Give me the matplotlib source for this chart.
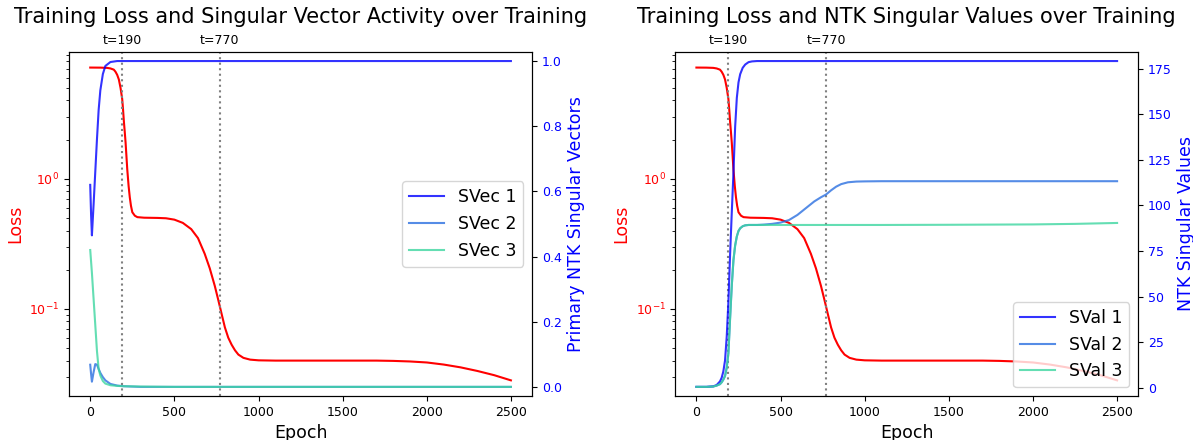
import matplotlib
matplotlib.use("Agg")
import matplotlib.pyplot as plt
import matplotlib.transforms as mtransforms

# loss (same run shown in both panels)
loss_epochs = [0, 60, 100, 120, 140, 150, 160, 170, 180, 190, 195, 200, 205, 210, 215, 220, 228, 235, 242, 250,
               265, 280, 320, 400, 450, 500, 550, 600, 640, 680, 710, 740, 760, 780, 800, 820, 840, 860, 880,
               910, 950, 1000, 1100, 1300, 1700, 1800, 1900, 2000, 2100, 2200, 2300, 2400, 2499]
loss = [7.16, 7.15, 7.12, 7.05, 6.9, 6.65, 6.3, 5.8, 5.0, 4.1, 3.4, 2.75, 2.3, 1.9, 1.5, 1.18, 0.88, 0.72, 0.62, 0.553,
        0.52, 0.507, 0.502, 0.50, 0.497, 0.485, 0.458, 0.41, 0.35, 0.265, 0.205, 0.15, 0.118, 0.092, 0.072, 0.060, 0.053, 0.048, 0.0445,
        0.042, 0.0407, 0.0402, 0.0400, 0.0400, 0.0400, 0.0398, 0.0394, 0.0387, 0.0373, 0.0355, 0.0333, 0.0309, 0.0282]

# singular vector activity
svec_epochs = [0, 5, 10, 20, 30, 40, 50, 60, 75, 90, 120, 160, 200, 300, 500, 1000, 1500, 2000, 2499]
svec1 = [0.62, 0.53, 0.465, 0.56, 0.66, 0.76, 0.85, 0.91, 0.96, 0.985, 0.997, 1.0, 1.0, 1.0, 1.0, 1.0, 1.0, 1.0, 1.0]
svec2 = [0.068, 0.04, 0.016, 0.045, 0.07, 0.068, 0.055, 0.043, 0.03, 0.02, 0.009, 0.004, 0.002, 0.0, 0.0, 0.0, 0.0, 0.0, 0.0]
svec3 = [0.42, 0.385, 0.35, 0.27, 0.19, 0.11, 0.055, 0.035, 0.018, 0.01, 0.005, 0.003, 0.002, 0.001, 0.0, 0.0, 0.0, 0.0, 0.0]

# singular values
sval_epochs = [0, 60, 100, 120, 140, 150, 160, 170, 180, 190, 200, 210, 220, 230, 240, 250, 260, 275, 290, 310,
               330, 360, 400, 450, 500, 550, 600, 650, 700, 740, 770, 800, 830, 860, 900, 950, 1000, 1100,
               1500, 2000, 2250, 2499]
sval1 = [0.5, 0.5, 0.8, 1.5, 3.5, 5.5, 9, 15, 28, 47, 73, 96, 118, 143, 159, 167.5, 172, 175.5, 177.3, 178.6,
         179.0, 179.2, 179.2, 179.2, 179.2, 179.2, 179.2, 179.2, 179.2, 179.2, 179.2, 179.2, 179.2, 179.2, 179.2, 179.2, 179.2, 179.2,
         179.2, 179.2, 179.2, 179.2]
sval2 = [0.5, 0.5, 0.7, 1.2, 2, 3, 4.5, 6.5, 11, 19, 38, 56, 70, 78, 83, 86, 87.5, 88.6, 89.1, 89.3,
         89.3, 89.3, 89.5, 89.9, 90.6, 92.0, 94.8, 98.5, 102.2, 104.5, 106.0, 108.3, 110.3, 111.7, 112.7, 113.1, 113.2, 113.3,
         113.3, 113.3, 113.3, 113.3]
sval3 = [0.5, 0.5, 0.7, 1.2, 2, 3, 4.5, 6.5, 11, 19, 38, 56, 70, 78, 83, 86, 87.5, 88.6, 89.1, 89.3,
         89.3, 89.3, 89.3, 89.3, 89.3, 89.3, 89.3, 89.3, 89.3, 89.3, 89.3, 89.3, 89.3, 89.3, 89.3, 89.3, 89.3, 89.3,
         89.4, 89.6, 89.9, 90.4]

events = [190, 770]
colors = ["blue", "#2a6fe0", "#3dd6a0"]

fig, axes = plt.subplots(1, 2, figsize=(11.93, 4.4), dpi=100)
fig.subplots_adjust(left=0.058, right=0.954, bottom=0.1, top=0.882, wspace=0.31)


def draw_panel(ax, title, yvals, ylabel, names, xs, legend_loc):
    ax.plot(loss_epochs, loss, color="red", linewidth=1.5)
    ax.set_yscale("log")
    ax.set_xlabel("Epoch", fontsize=12.5)
    ax.set_ylabel("Loss", color="red", fontsize=12.5)
    ax.tick_params(axis="y", labelcolor="red", labelsize=9)
    ax.tick_params(axis="x", labelsize=9)
    ax.set_title(title, fontsize=15, pad=21)
    trans = mtransforms.blended_transform_factory(ax.transData, ax.transAxes)
    for t in events:
        ax.axvline(t, color="gray", linestyle=":", linewidth=1.5)
        ax.text(t, 1.015, f"t={t}", transform=trans, ha="center", va="bottom", fontsize=9)

    ax2 = ax.twinx()
    for y, name, c in zip(yvals, names, colors):
        ax2.plot(xs, y, color=c, alpha=0.8, linewidth=1.5, label=name)
    ax2.margins(y=0.028)
    ax2.set_ylabel(ylabel, color="blue", fontsize=12.5)
    ax2.tick_params(axis="y", labelcolor="blue", labelsize=9)
    ax2.legend(loc=legend_loc, fontsize=12.5)


draw_panel(axes[0], "Training Loss and Singular Vector Activity over Training",
           [svec1, svec2, svec3], "Primary NTK Singular Vectors",
           ["SVec 1", "SVec 2", "SVec 3"], svec_epochs, "center right")
draw_panel(axes[1], "Training Loss and NTK Singular Values over Training",
           [sval1, sval2, sval3], "NTK Singular Values",
           ["SVal 1", "SVal 2", "SVal 3"], sval_epochs, "lower right")

plt.savefig("out.png", dpi=100)
